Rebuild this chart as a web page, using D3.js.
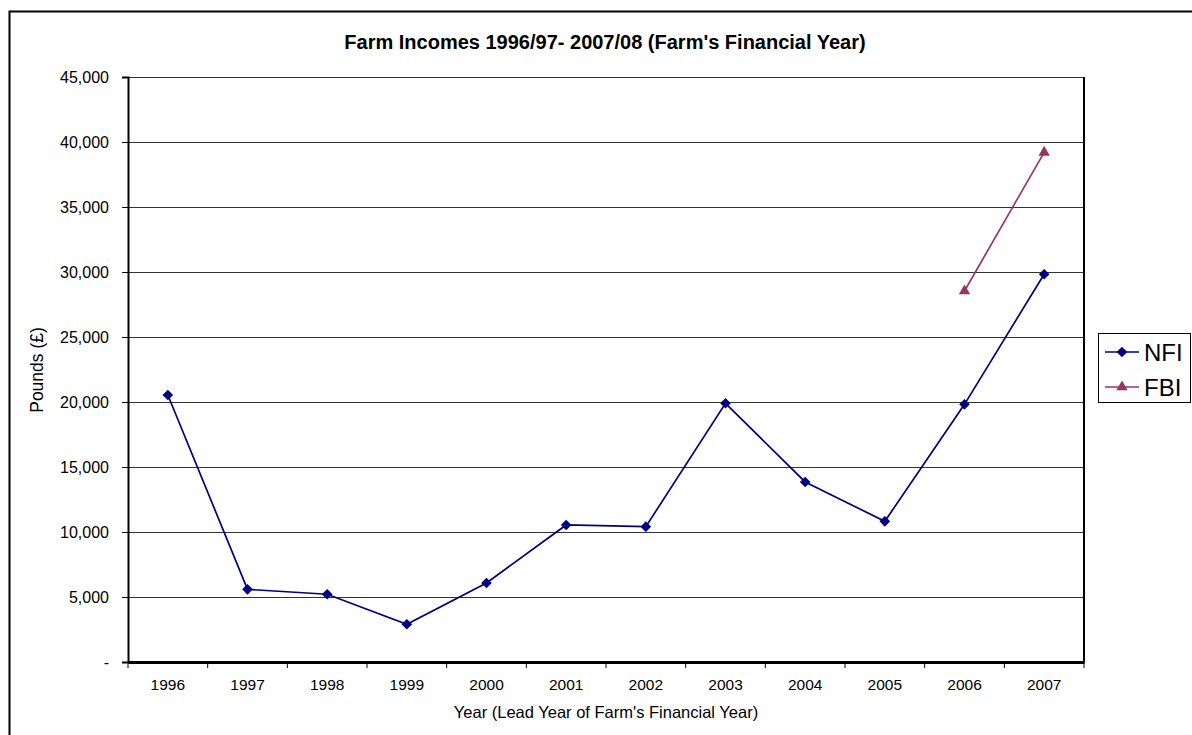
<!DOCTYPE html>
<html>
<head>
<meta charset="utf-8">
<script src="https://cdn.jsdelivr.net/npm/d3@7"></script>
<style>
  html, body { margin: 0; padding: 0; background: #fff; }
  svg { display: block; font-family: "Liberation Sans", Arial, sans-serif; }
</style>
</head>
<body>
<svg id="chart" width="1192" height="735"></svg>
<script>
// Farm incomes per farm, lead year of the farm's financial year
const years = ["1996", "1997", "1998", "1999", "2000", "2001", "2002", "2003", "2004", "2005", "2006", "2007"];
const nfiValues = [20540, 5590, 5210, 2900, 6080, 10540, 10410, 19900, 13850, 10820, 19820, 29830];
const fbiYears = ["2006", "2007"];
const fbiValues = [28540, 39200];
const yTicks = [0, 5000, 10000, 15000, 20000, 25000, 30000, 35000, 40000, 45000];
const seriesNames = ["NFI", "FBI"];
const seriesColors = ["#000080", "#993366"];

const FONT = "Liberation Sans, Arial, sans-serif";
const svg = d3.select("#chart");
const plot = { left: 128, top: 77, right: 1084, bottom: 662 };

// outer chart frame (runs past the right and bottom of the page)
svg.append("rect")
  .attr("x", 9.5).attr("y", 11.5)
  .attr("width", 1200).attr("height", 800)
  .attr("fill", "none").attr("stroke", "#000").attr("stroke-width", 2);

const x = d3.scaleBand().domain(years).range([plot.left, plot.right]).padding(0);
const y = d3.scaleLinear().domain([0, 45000]).range([plot.bottom, plot.top]);

// horizontal gridlines
svg.append("g")
  .selectAll("line")
  .data(yTicks.filter(d => d > 0))
  .join("line")
  .attr("x1", plot.left).attr("x2", plot.right)
  .attr("y1", d => Math.round(y(d)) + 0.5).attr("y2", d => Math.round(y(d)) + 0.5)
  .attr("stroke", "#333").attr("stroke-width", 1);

// plot area right border
svg.append("line")
  .attr("x1", plot.right).attr("x2", plot.right)
  .attr("y1", plot.top).attr("y2", plot.bottom)
  .attr("stroke", "#000").attr("stroke-width", 2);

// y axis
const fmt = d => d === 0 ? "-" : d3.format(",")(d);
const yAxis = svg.append("g")
  .attr("transform", `translate(${plot.left},0)`)
  .call(d3.axisLeft(y).tickValues(yTicks).tickFormat(fmt).tickSize(6).tickPadding(13));
yAxis.select(".domain").attr("stroke", "#000").attr("stroke-width", 2);
yAxis.selectAll(".tick line").attr("stroke", "#000");
yAxis.selectAll(".tick text")
  .attr("font-size", 16).attr("fill", "#000")
  .attr("font-family", FONT);

// x axis with ticks on category boundaries
const xAxis = svg.append("g")
  .attr("transform", `translate(0,${plot.bottom})`)
  .call(d3.axisBottom(x).tickSize(0).tickPadding(17));
xAxis.select(".domain").attr("stroke", "#000").attr("stroke-width", 3);
xAxis.selectAll(".tick text")
  .attr("font-size", 15.5).attr("fill", "#000")
  .attr("font-family", FONT);
xAxis.append("g")
  .selectAll("line")
  .data(years.map(d => x(d)).concat([plot.right]))
  .join("line")
  .attr("x1", d => d).attr("x2", d => d)
  .attr("y1", 0).attr("y2", 6)
  .attr("stroke", "#000").attr("stroke-width", 1);

const cx = d => x(d) + x.bandwidth() / 2;
const line = d3.line().x(d => cx(d[0])).y(d => y(d[1]));

const nfi = years.map((yr, i) => [yr, nfiValues[i]]);
const fbi = fbiYears.map((yr, i) => [yr, fbiValues[i]]);

const diamond = d3.symbol(d3.symbolDiamond2, 72)();
const triangle = d3.symbol(d3.symbolTriangle, 56)();

// NFI series
svg.append("path").datum(nfi)
  .attr("d", line).attr("fill", "none")
  .attr("stroke", seriesColors[0]).attr("stroke-width", 1.7);
svg.append("g").selectAll("path").data(nfi).join("path")
  .attr("d", diamond)
  .attr("transform", d => `translate(${cx(d[0])},${y(d[1])})`)
  .attr("fill", seriesColors[0]);

// FBI series
svg.append("path").datum(fbi)
  .attr("d", line).attr("fill", "none")
  .attr("stroke", seriesColors[1]).attr("stroke-width", 1.7);
svg.append("g").selectAll("path").data(fbi).join("path")
  .attr("d", triangle)
  .attr("transform", d => `translate(${cx(d[0])},${y(d[1])})`)
  .attr("fill", seriesColors[1]);

// title
svg.append("text")
  .attr("x", 605).attr("y", 49)
  .attr("text-anchor", "middle")
  .attr("font-size", 20).attr("font-weight", "bold")
  .text("Farm Incomes 1996/97- 2007/08 (Farm's Financial Year)");

// axis titles
svg.append("text")
  .attr("x", 606).attr("y", 718)
  .attr("text-anchor", "middle").attr("font-size", 16.5)
  .text("Year (Lead Year of Farm's Financial Year)");
svg.append("text")
  .attr("transform", "translate(43,370) rotate(-90)")
  .attr("text-anchor", "middle").attr("font-size", 17.5)
  .text("Pounds (£)");

// legend
const legend = svg.append("g");
legend.append("rect")
  .attr("x", 1098.5).attr("y", 333.5).attr("width", 92).attr("height", 69)
  .attr("fill", "#fff").attr("stroke", "#000").attr("stroke-width", 1);
const legendRows = [
  { name: seriesNames[0], color: seriesColors[0], mark: diamond, yy: 352 },
  { name: seriesNames[1], color: seriesColors[1], mark: triangle, yy: 387 }
];
legendRows.forEach(r => {
  legend.append("line")
    .attr("x1", 1105).attr("x2", 1139).attr("y1", r.yy).attr("y2", r.yy)
    .attr("stroke", r.color).attr("stroke-width", 1.7);
  legend.append("path")
    .attr("d", r.mark)
    .attr("transform", `translate(1122,${r.yy})`)
    .attr("fill", r.color);
  legend.append("text")
    .attr("x", 1144).attr("y", r.yy + 9)
    .attr("font-size", 24)
    .text(r.name);
});
</script>
</body>
</html>
